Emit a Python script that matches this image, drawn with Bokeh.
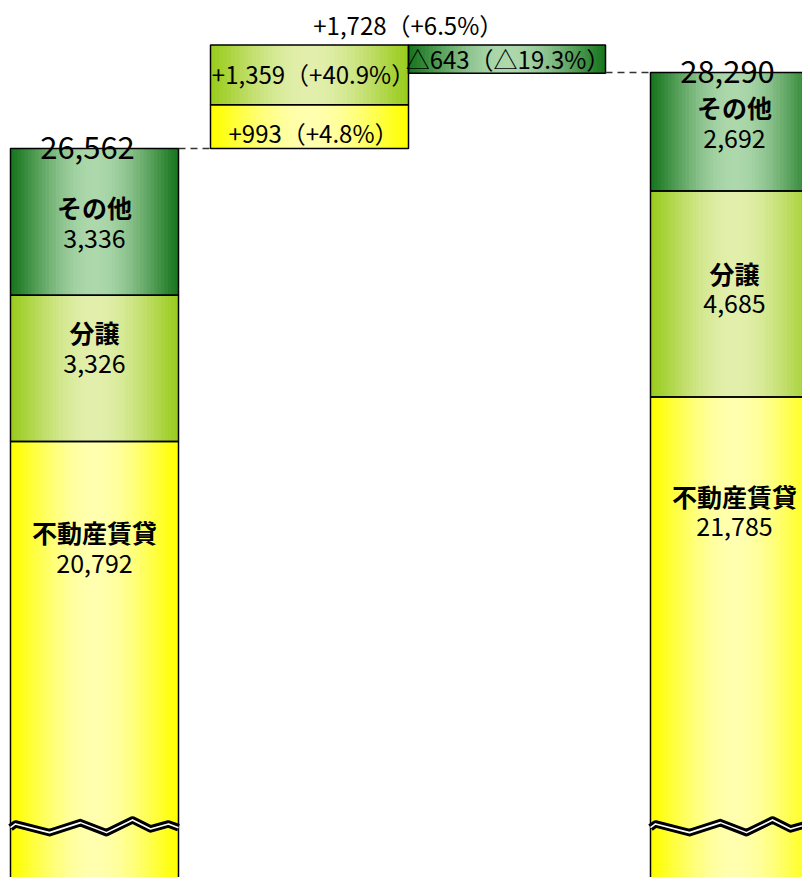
import numpy as np
from bokeh.plotting import figure
from bokeh.models import Range1d, ColumnDataSource
from bokeh.core.properties import value
from bokeh.embed import file_html
from bokeh.resources import INLINE

# ---------------- data ----------------
categories = ["不動産賃貸", "分譲", "その他"]
values_prev = [20792, 3326, 3336]
values_curr = [21785, 4685, 2692]
total_prev = 26562
total_curr = 28290
change_values = [993, 1359, -643]
change_pcts = [4.8, 40.9, -19.3]
total_change = 1728
total_change_pct = 6.5

# ---------------- layout / style ----------------
W, H = 802, 877
Y_MAX, Y_MIN = 29927, 9986
UPP = (Y_MAX - Y_MIN) / H          # value units per pixel
X_PREV, X_CURR = 94, 734           # bar centres (px-like x scale)
W_BIG = 168
X_CHG = [309, 309, 506.5]
W_CHG = [198, 198, 197]
BREAK_VALUE = 11120
FONT = value("Noto Sans CJK JP")
COLORS = {  # (edge, centre)
    "不動産賃貸": ((255, 255, 0), (255, 255, 175)),
    "分譲": ((154, 204, 30), (226, 239, 172)),
    "その他": ((24, 118, 30), (172, 216, 172)),
}
NAME_OFF_PREV = [91, 37, 59]   # px below segment top, per category
NAME_OFF_CURR = [99, 82, 35]
VALUE_GAP = 31
CHG_LABEL_OFF = [6, -1, -1]
CHG_LABEL_XOFF = [4, 4, 1]

p = figure(width=W, height=H, x_range=Range1d(0, W), y_range=Range1d(Y_MIN, Y_MAX),
           output_backend="svg", toolbar_location=None, min_border=0,
           x_axis_type=None, y_axis_type=None)
p.grid.visible = False
p.outline_line_color = None
p.background_fill_color = "white"
p.border_fill_color = "white"

N = 48
strips = dict(left=[], right=[], top=[], bottom=[], color=[])
outlines = dict(left=[], right=[], top=[], bottom=[])


def add_segment(xc, w, bottom, top, cat):
    edge, centre = COLORS[cat]
    x0 = xc - w / 2
    for i in range(N):
        t = (i + 0.5) / N
        f = np.sin(np.pi * t) ** 1.2
        c = tuple(int(round(e + (m - e) * f)) for e, m in zip(edge, centre))
        strips["left"].append(x0 + w * i / N)
        strips["right"].append(x0 + w * (i + 1) / N + (0.8 if i < N - 1 else 0))
        strips["top"].append(top)
        strips["bottom"].append(bottom)
        strips["color"].append("#%02x%02x%02x" % c)
    outlines["left"].append(x0)
    outlines["right"].append(x0 + w)
    outlines["top"].append(top)
    outlines["bottom"].append(bottom)


# stacked bars, stacked downward from the total
labels = dict(x=[], y=[], text=[], off=[], bold=[])
for xc, vals, total, offs in [(X_PREV, values_prev, total_prev, NAME_OFF_PREV),
                              (X_CURR, values_curr, total_curr, NAME_OFF_CURR)]:
    top = total
    tops = {}
    for cat, v in zip(categories[::-1], vals[::-1]):
        bottom = top - v
        if cat == categories[0]:
            bottom = 0
        add_segment(xc, W_BIG, bottom, top, cat)
        tops[cat] = top
        top = top - v
    for cat, v, off in zip(categories, vals, offs):
        labels["x"] += [xc, xc]
        labels["y"] += [tops[cat], tops[cat]]
        labels["text"] += [cat, f"{v:,}"]
        labels["off"] += [off, off + VALUE_GAP]
        labels["bold"] += ["bold", "normal"]

# waterfall changes
level = total_prev
chg_lab = dict(x=[], y=[], text=[], off=[], xoff=[])
for cat, dv, pct, xc, w, off, xoff in zip(categories, change_values, change_pcts, X_CHG, W_CHG,
                                          CHG_LABEL_OFF, CHG_LABEL_XOFF):
    lo, hi = sorted([level, level + dv])
    add_segment(xc, w, lo, hi, cat)
    level = level + dv
    sign = "+" if dv >= 0 else "△"
    chg_lab["x"].append(xc)
    chg_lab["y"].append((lo + hi) / 2)
    chg_lab["text"].append(f"{sign}{abs(dv):,}（{sign}{abs(pct):.1f}%）")
    chg_lab["off"].append(off)
    chg_lab["xoff"].append(xoff)

p.quad(left="left", right="right", top="top", bottom="bottom", fill_color="color",
       line_color=None, source=ColumnDataSource(strips))
p.quad(left="left", right="right", top="top", bottom="bottom", fill_color=None,
       line_color="black", line_width=1.5, source=ColumnDataSource(outlines))

# dashed connectors
p.segment(x0=[X_PREV + W_BIG / 2, X_CHG[2] + W_CHG[2] / 2],
          y0=[total_prev, total_curr],
          x1=[X_CHG[0] - W_CHG[0] / 2, X_CURR - W_BIG / 2],
          y1=[total_prev, total_curr],
          line_color="#333333", line_width=1.5, line_dash="7 5")

# wavy break marks
wave_dx = [0, 5, 39, 70, 96, 122, 140, 158, 168]
wave_dy = [0, -3.7, 5, -5, 5, -7.7, 1.3, -3.7, 0]
xs, ys = [], []
for xc in [X_PREV, X_CURR]:
    x0 = xc - W_BIG / 2
    xs.append([x0 + d for d in wave_dx])
    ys.append([BREAK_VALUE - d * UPP for d in wave_dy])
p.multi_line(xs=xs, ys=ys, line_color="black", line_width=7.5, line_join="round")
p.multi_line(xs=xs, ys=ys, line_color="white", line_width=1.6, line_join="round")

# segment labels
def pick(kind):
    return ColumnDataSource({k: [v for v, b in zip(labels[k], labels["bold"]) if b == kind] for k in labels})

p.text(x="x", y="y", text="text", y_offset="off", text_font=FONT, text_font_size="25px",
       text_font_style="bold", text_align="center", text_baseline="middle", source=pick("bold"))
p.text(x="x", y="y", text="text", y_offset="off", text_font=FONT, text_font_size="25px",
       text_align="center", text_baseline="middle", source=pick("normal"))

# change labels
p.text(x="x", y="y", text="text", x_offset="xoff", y_offset="off", text_font=FONT,
       text_font_size="24px", text_align="center", text_baseline="middle",
       source=ColumnDataSource(chg_lab))

# totals
p.text(x=[X_PREV, X_CURR], y=[total_prev, total_curr],
       text=[f"{total_prev:,}", f"{total_curr:,}"], x_offset=-7, y_offset=-1,
       text_font=FONT, text_font_size="31px", text_align="center", text_baseline="alphabetic")
p.text(x=[(X_CHG[1] + X_CHG[2]) / 2], y=[total_prev + change_values[0] + change_values[1]],
       text=[f"+{total_change:,}（+{total_change_pct:.1f}%）"], y_offset=-21,
       text_font=FONT, text_font_size="24px", text_align="center", text_baseline="middle")

open("out.html", "w").write(file_html(p, INLINE))
